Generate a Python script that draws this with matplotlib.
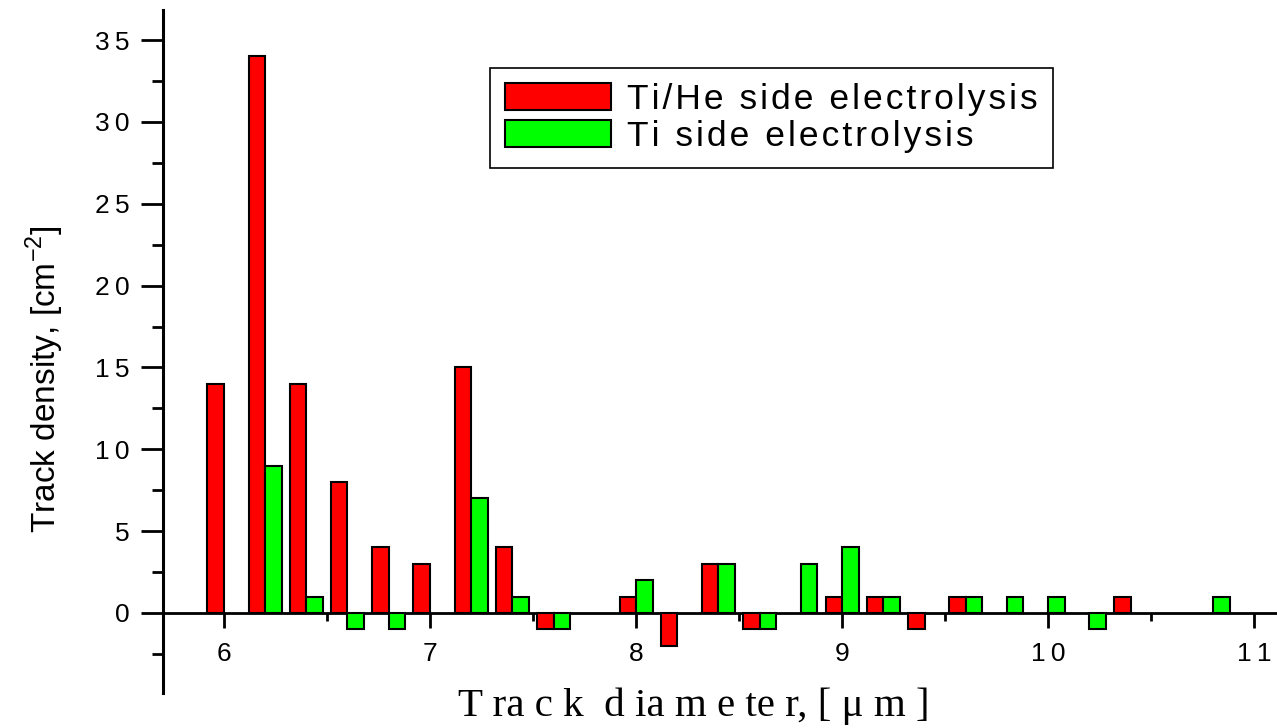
import numpy as np
import matplotlib.pyplot as plt
from matplotlib.ticker import MultipleLocator, FuncFormatter

plt.rcParams['font.family'] = ['Liberation Sans', 'DejaVu Sans']
plt.rcParams['mathtext.fontset'] = 'custom'
plt.rcParams['mathtext.rm'] = 'Liberation Sans'

# datos
diameter = [6.0, 6.2, 6.4, 6.6, 6.8, 7.0, 7.2, 7.4, 7.6, 7.8, 8.0, 8.2, 8.4,
            8.6, 8.8, 9.0, 9.2, 9.4, 9.6, 9.8, 10.0, 10.2, 10.4, 10.6, 10.8]
ti_he = [14, 34, 14, 8, 4, 3, 15, 4, -1, 0, 1, -2, 3,
         -1, 0, 1, 1, -1, 1, 0, 0, 0, 1, 0, 0]
ti = [0, 9, 1, -1, -1, 0, 7, 1, -1, 0, 2, 0, 3,
      -1, 3, 4, 1, 0, 1, 1, 1, -1, 0, 0, 1]
labels = ["Ti/He side electrolysis", "Ti side electrolysis"]

x = np.array(diameter)
r = np.array(ti_he)
g = np.array(ti)
w = 0.08

# espaciado entre letras como en Origin
def spread(s, sep="\u200a"):
    return sep.join(s)

fig = plt.figure(figsize=(12.77, 7.28), dpi=100)
ax = fig.add_axes([163/1277, 35/728, 1114/1277, 683/728])

mr = r != 0
mg = g != 0
ax.bar(x[mr] - w/2, r[mr], width=w, color="#ff0000", edgecolor="black",
       linewidth=1.5, label=spread(labels[0]))
ax.bar(x[mg] + w/2, g[mg], width=w, color="#00ff00", edgecolor="black",
       linewidth=1.5, label=spread(labels[1]))

ax.set_xlim(5.705, 11.11)
ax.set_ylim(-4.89, 36.84)

#ejes estilo Origin
ax.spines['top'].set_visible(False)
ax.spines['right'].set_visible(False)
ax.spines['bottom'].set_position(('data', 0))
ax.spines['bottom'].set_linewidth(2.0)
ax.spines['left'].set_linewidth(2.2)
ax.spines['bottom'].set_zorder(0.5)

ax.xaxis.set_major_locator(MultipleLocator(1))
ax.xaxis.set_minor_locator(MultipleLocator(0.5))
ax.yaxis.set_major_locator(MultipleLocator(5))
ax.yaxis.set_minor_locator(MultipleLocator(2.5))

spaced = FuncFormatter(lambda v, p: "\u2009".join(str(int(round(v)))))
ax.xaxis.set_major_formatter(spaced)
ax.yaxis.set_major_formatter(spaced)

ax.tick_params(axis='y', which='major', length=16, width=2, labelsize=19, pad=8)
ax.tick_params(axis='y', which='minor', length=8, width=2)
ax.tick_params(axis='x', which='major', length=11, width=2, labelsize=19, pad=10)
ax.tick_params(axis='x', which='minor', length=6, width=2)

ax.set_ylabel(r"Track density, [cm$^{-2}$]", fontsize=24, va='center')
ax.yaxis.set_label_coords(-0.106, 0.46)
ax.set_xlabel("T ra c k  d ia m e te r, [ \u03bc m ]", fontsize=29.5,
              family=['Liberation Serif', 'DejaVu Serif'], va='center')
ax.xaxis.set_label_coords(0.476, -0.02)

leg = ax.legend(loc='upper left', bbox_to_anchor=(490/1277, 1 - 68/728),
                bbox_transform=fig.transFigure, fontsize=25.5, fancybox=False,
                edgecolor='black', framealpha=1, handlelength=3.0,
                handleheight=0.8, borderpad=0.42, labelspacing=0.12,
                handletextpad=0.45, borderaxespad=0)
leg.get_frame().set_linewidth(1.2)

fig.savefig("out.png", dpi=100)
